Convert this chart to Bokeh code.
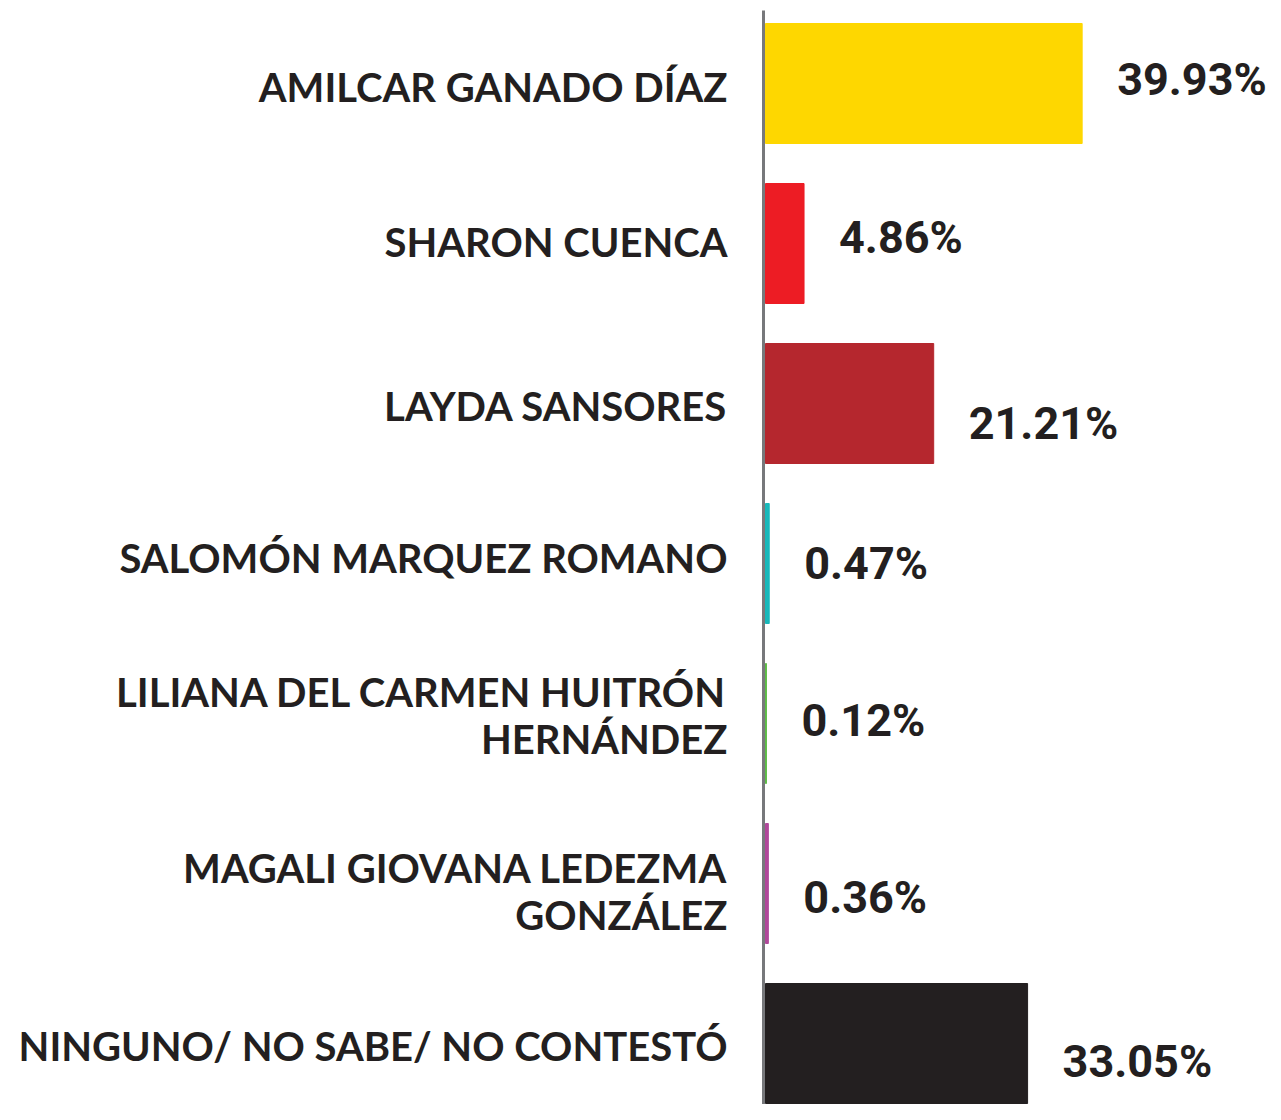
from bokeh.plotting import figure
from bokeh.models import Range1d, ColumnDataSource
from bokeh.core.properties import value
from bokeh.embed import file_html
from bokeh.resources import INLINE

# ---- data ----
candidates = [
    "AMILCAR GANADO DÍAZ",
    "SHARON CUENCA",
    "LAYDA SANSORES",
    "SALOMÓN MARQUEZ ROMANO",
    "LILIANA DEL CARMEN HUITRÓN\nHERNÁNDEZ",
    "MAGALI GIOVANA LEDEZMA\nGONZÁLEZ",
    "NINGUNO/ NO SABE/ NO CONTESTÓ",
]
percentages = [39.93, 4.86, 21.21, 0.47, 0.12, 0.36, 33.05]
bar_colors = ["#FED700", "#ED1C24", "#B5272E", "#17B8BA", "#5DBB46", "#B0479A", "#231F20"]

# ---- layout constants (pixels) ----
W, H = 1273, 1104
PX_PER_PCT = 7.93
ZERO_PX = 765          # x pixel of 0 within the figure
ROW_PX = 160           # row spacing
FIRST_ROW_PX = 83      # centre of first row from top
BAR_FRAC = 0.75

x0 = -ZERO_PX / PX_PER_PCT
x1 = (W - ZERO_PX) / PX_PER_PCT
y_top = -FIRST_ROW_PX / ROW_PX
y_bot = y_top + H / ROW_PX

p = figure(width=W, height=H, output_backend="svg", toolbar_location=None,
           x_range=Range1d(x0, x1), y_range=Range1d(y_bot, y_top),
           min_border=0, outline_line_color=None)
p.axis.visible = False
p.grid.visible = False
p.background_fill_color = "white"
p.border_fill_color = "white"

idx = list(range(len(candidates)))
label_dy = [-4, -6, 20, 0, -3, 14, 18]   # vertical nudges of value labels (px, down positive)
name_dy = [3, -2, 2, -6, -8, 8, 2]       # vertical nudges of candidate names (px, down positive)
src = ColumnDataSource(dict(
    y=idx, v=percentages, c=bar_colors, name=candidates,
    lab=[f"{v:.2f}%" for v in percentages],
    dy=label_dy, ndy=name_dy,
))

p.hbar(y="y", left=0, right="v", height=BAR_FRAC, color="c", source=src)

# axis line
ax_x = -2 / PX_PER_PCT
p.segment(x0=[ax_x], y0=[y_top + 10 / ROW_PX], x1=[ax_x], y1=[y_bot], line_color="#77787B", line_width=3)

# candidate names
p.text(x=0, y="y", text="name", source=src, x_offset=-38, y_offset="ndy",
       text_align="right", text_baseline="middle",
       text_font=value("Lato"), text_font_style="bold",
       text_font_size="40px", text_color="#231F20", text_line_height=0.98)

# value labels
p.text(x="v", y="y", text="lab", source=src, x_offset=35, y_offset="dy",
       text_align="left", text_baseline="middle",
       text_font=value("Roboto"), text_font_style="bold",
       text_font_size="45px", text_color="#231F20")

open("out.html", "w").write(file_html(p, INLINE))
